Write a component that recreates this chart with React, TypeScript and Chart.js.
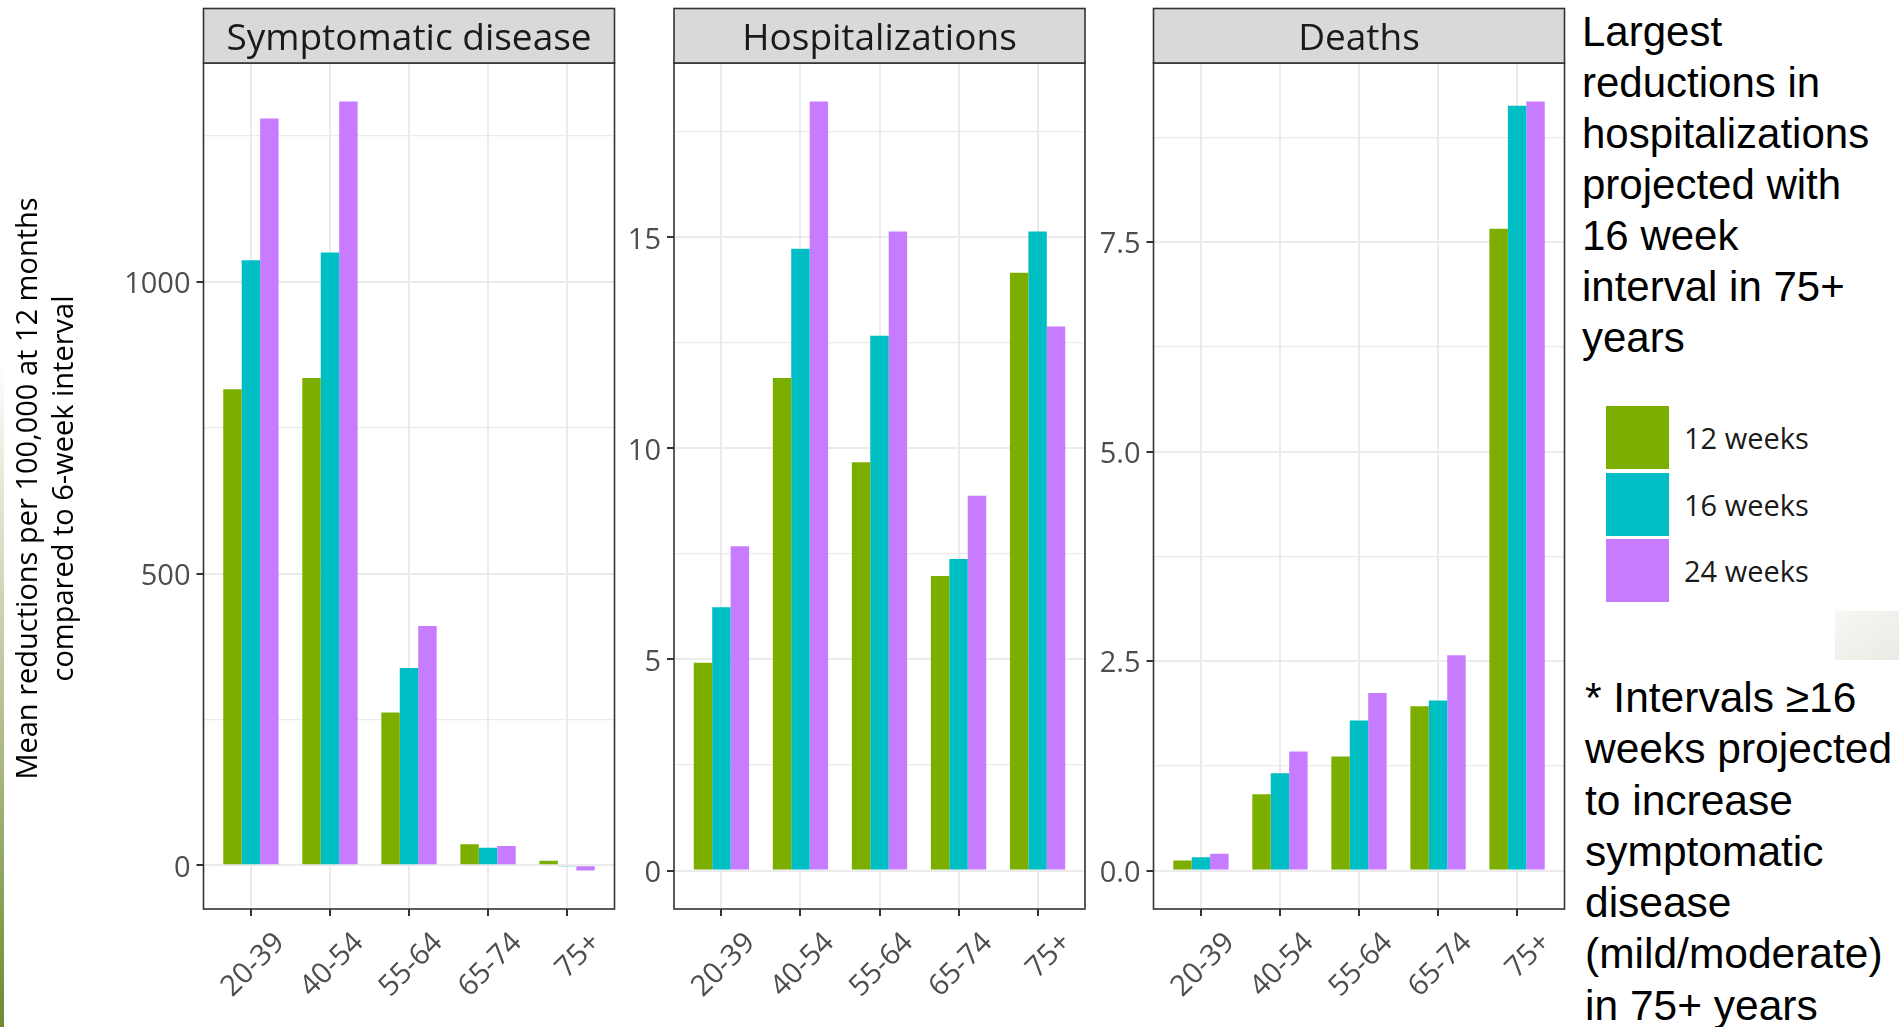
import React, { useEffect, useRef } from 'react';
import { Chart, registerables } from 'chart.js';

Chart.register(...registerables);

// ---------------- data ----------------
const ageGroups = ['20-39', '40-54', '55-64', '65-74', '75+'];
const intervalLabels = ['12 weeks', '16 weeks', '24 weeks'];
const intervalColors = ['#7CAE00', '#00BFC4', '#C77CFF'];

const symptomatic12w = [816, 835, 262, 36, 8];
const symptomatic16w = [1037, 1050, 338, 30, -1];
const symptomatic24w = [1280, 1309, 410, 33, -9];

const hospital12w = [4.92, 11.67, 9.67, 6.98, 14.16];
const hospital16w = [6.24, 14.73, 12.67, 7.38, 15.14];
const hospital24w = [7.68, 18.22, 15.14, 8.88, 12.89];

const deaths12w = [0.12, 0.91, 1.36, 1.96, 7.66];
const deaths16w = [0.16, 1.16, 1.79, 2.03, 9.13];
const deaths24w = [0.2, 1.42, 2.12, 2.57, 9.18];

const symptomaticGrid = [0, 250, 500, 750, 1000, 1250];
const symptomaticTickLabels = [0, 500, 1000];
const hospitalGrid = [0, 2.5, 5, 7.5, 10, 12.5, 15, 17.5];
const hospitalTickLabels = [0, 5, 10, 15];
const deathsGrid = [0, 1.25, 2.5, 3.75, 5, 6.25, 7.5, 8.75];
const deathsTickLabels = [0, 2.5, 5, 7.5];

const panelTitles = ['Symptomatic disease', 'Hospitalizations', 'Deaths'];
const yAxisTitle = ['Mean reductions per 100,000 at 12 months', 'compared to 6-week interval'];

const noteTop = ['Largest', 'reductions in', 'hospitalizations', 'projected with', '16 week', 'interval in 75+', 'years'];
const noteBottom = ['* Intervals \u226516', 'weeks projected', 'to increase', 'symptomatic', 'disease', '(mild/moderate)', 'in 75+ years'];

// ---------------- layout ----------------
const PAGE_W = 1899;
const PAGE_H = 1027;
const STRIP_TOP = 8.5;
const PLOT_TOP = 63;
const PLOT_BOTTOM = 909;
const STRIP_BASELINE = 49.5;
const FONT = '"Open Sans", "Noto Sans", sans-serif';
const TICK_SIZE = 29;

const panelDecor = {
  id: 'panelDecor',
  afterDraw(chart: any, _args: any, opts: any) {
    const { ctx, chartArea: a } = chart;
    const w = a.right - a.left;
    ctx.save();
    ctx.strokeStyle = '#333333';
    ctx.lineWidth = 1.6;
    ctx.strokeRect(a.left, a.top, w, a.bottom - a.top);
    ctx.fillStyle = '#D9D9D9';
    ctx.fillRect(a.left, STRIP_TOP, w, a.top - STRIP_TOP);
    ctx.strokeRect(a.left, STRIP_TOP, w, a.top - STRIP_TOP);
    ctx.fillStyle = '#1A1A1A';
    ctx.font = '37px ' + FONT;
    ctx.textAlign = 'center';
    ctx.textBaseline = 'alphabetic';
    ctx.fillText(opts.text, (a.left + a.right) / 2, STRIP_BASELINE);
    if (opts.yTitle) {
      ctx.fillStyle = '#000000';
      ctx.font = '29px ' + FONT;
      ctx.textBaseline = 'middle';
      const xs = [28.5, 65];
      opts.yTitle.forEach((line: string, i: number) => {
        ctx.save();
        ctx.translate(xs[i], 488.5);
        ctx.rotate(-Math.PI / 2);
        ctx.fillText(line, 0, 0);
        ctx.restore();
      });
    }
    ctx.restore();
  },
};

type PanelProps = {
  title: string;
  series: number[][];
  grid: number[];
  majors: number[];
  decimals: number;
  left: number;
  width: number;
  yAxisWidth: number;
  padRight: number;
  yTitle?: string[];
};

function Panel(p: PanelProps) {
  const ref = useRef<HTMLCanvasElement>(null);
  useEffect(() => {
    if (!ref.current) return;
    const all = p.series.flat();
    const lo = Math.min(0, ...all);
    const hi = Math.max(0, ...all);
    const expand = (hi - lo) * 0.05;
    const isMajor = (v: number) => p.majors.some((m) => Math.abs(m - v) < 1e-9);

    const chart = new Chart(ref.current, {
      type: 'bar',
      data: {
        datasets: p.series.map((vals, i) => ({
          label: intervalLabels[i],
          data: vals.map((v, j) => ({ x: j + 1, y: v })),
          backgroundColor: intervalColors[i],
          borderWidth: 0,
          categoryPercentage: 0.7,
          barPercentage: 1.0,
        })),
      },
      options: {
        responsive: false,
        animation: false,
        devicePixelRatio: 1,
        layout: { padding: { left: 0, right: p.padRight, top: PLOT_TOP, bottom: 0 } },
        plugins: {
          legend: { display: false },
          tooltip: { enabled: false },
          panelDecor: { text: p.title, yTitle: p.yTitle },
        } as any,
        scales: {
          x: {
            type: 'linear',
            min: 0.4,
            max: 5.6,
            offset: false,
            afterBuildTicks: (axis: any) => {
              axis.ticks = ageGroups.map((_, i) => ({ value: i + 1 }));
            },
            afterFit: (s: any) => {
              s.height = PAGE_H - PLOT_BOTTOM;
              s.paddingLeft = 0;
              s.paddingRight = 0;
            },
            ticks: {
              autoSkip: false,
              minRotation: 45,
              maxRotation: 45,
              padding: 10,
              labelOffset: 29,
              color: '#4D4D4D',
              font: { family: FONT, size: TICK_SIZE },
              callback: (v: any) => ageGroups[Math.round(Number(v)) - 1] ?? '',
            },
            grid: {
              offset: false,
              color: '#EBEBEB',
              lineWidth: 2,
              tickColor: '#333333',
              tickLength: 7,
              tickWidth: 2,
            },
            border: { display: false },
          },
          y: {
            type: 'linear',
            min: lo - expand,
            max: hi + expand,
            afterBuildTicks: (axis: any) => {
              axis.ticks = p.grid.map((v) => ({ value: v }));
            },
            afterFit: (s: any) => {
              s.width = p.yAxisWidth;
              s.paddingTop = 0;
              s.paddingBottom = 0;
            },
            ticks: {
              autoSkip: false,
              padding: 6,
              labelOffset: 3,
              color: '#4D4D4D',
              font: { family: FONT, size: TICK_SIZE },
              callback: (v: any) => (isMajor(Number(v)) ? Number(v).toFixed(p.decimals) : ''),
            },
            grid: {
              color: '#EBEBEB',
              lineWidth: (ctx: any) => (ctx.tick && isMajor(ctx.tick.value) ? 2 : 1.3),
              tickColor: (ctx: any) => (ctx.tick && isMajor(ctx.tick.value) ? '#333333' : 'rgba(0,0,0,0)'),
              tickLength: 7,
              tickWidth: 2,
            },
            border: { display: false },
            title: { display: false },
          },
        },
      } as any,
      plugins: [panelDecor],
    });
    const fonts: any = (document as any).fonts;
    if (fonts && fonts.ready) fonts.ready.then(() => chart.update());
    return () => chart.destroy();
  }, []);
  return (
    <canvas
      ref={ref}
      width={p.width}
      height={PAGE_H}
      style={{ position: 'absolute', left: p.left, top: 0, width: p.width, height: PAGE_H }}
    />
  );
}

export default function App() {
  const legendTops = [406, 472.5, 539];
  return (
    <div
      style={{
        position: 'absolute',
        left: 0,
        top: 0,
        width: PAGE_W,
        height: PAGE_H,
        overflow: 'hidden',
        background: '#FFFFFF',
      }}
    >
      <div
        style={{
          position: 'absolute',
          left: 0,
          top: 360,
          width: 4,
          height: PAGE_H - 360,
          background: 'linear-gradient(to bottom, rgba(120,140,60,0), #6F8A2F)',
        }}
      />
      <Panel
        title={panelTitles[0]}
        series={[symptomatic12w, symptomatic16w, symptomatic24w]}
        grid={symptomaticGrid}
        majors={symptomaticTickLabels}
        decimals={0}
        left={0}
        width={640}
        yAxisWidth={203.5}
        padRight={25.5}
        yTitle={yAxisTitle}
      />
      <Panel
        title={panelTitles[1]}
        series={[hospital12w, hospital16w, hospital24w]}
        grid={hospitalGrid}
        majors={hospitalTickLabels}
        decimals={0}
        left={615}
        width={475}
        yAxisWidth={59}
        padRight={5}
      />
      <Panel
        title={panelTitles[2]}
        series={[deaths12w, deaths16w, deaths24w]}
        grid={deathsGrid}
        majors={deathsTickLabels}
        decimals={1}
        left={1090}
        width={490}
        yAxisWidth={63.5}
        padRight={15.5}
      />
      <div
        style={{
          position: 'absolute',
          left: 1582,
          top: 6,
          fontFamily: '"Liberation Sans", Arial, sans-serif',
          fontSize: 42,
          lineHeight: '51px',
          color: '#000',
          whiteSpace: 'pre',
        }}
      >
        {noteTop.map((t, i) => (
          <div key={i}>{t}</div>
        ))}
      </div>
      {intervalLabels.map((lab, i) => (
        <React.Fragment key={lab}>
          <div
            style={{
              position: 'absolute',
              left: 1606,
              top: legendTops[i],
              width: 63,
              height: 63,
              background: intervalColors[i],
            }}
          />
          <div
            style={{
              position: 'absolute',
              left: 1684,
              top: legendTops[i],
              height: 63,
              fontFamily: FONT,
              fontSize: 29,
              lineHeight: '63px',
              color: '#1A1A1A',
              whiteSpace: 'pre',
            }}
          >
            {lab}
          </div>
        </React.Fragment>
      ))}
      <div
        style={{
          position: 'absolute',
          left: 1835,
          top: 611,
          width: 64,
          height: 49,
          background: 'linear-gradient(to bottom right, #F7F7F3, #E9EBE4)',
        }}
      />
      <div
        style={{
          position: 'absolute',
          left: 1585,
          top: 672,
          fontFamily: '"Liberation Sans", Arial, sans-serif',
          fontSize: 42.5,
          lineHeight: '51.3px',
          color: '#000',
          whiteSpace: 'pre',
        }}
      >
        {noteBottom.map((t, i) => (
          <div key={i}>{t}</div>
        ))}
      </div>
    </div>
  );
}
